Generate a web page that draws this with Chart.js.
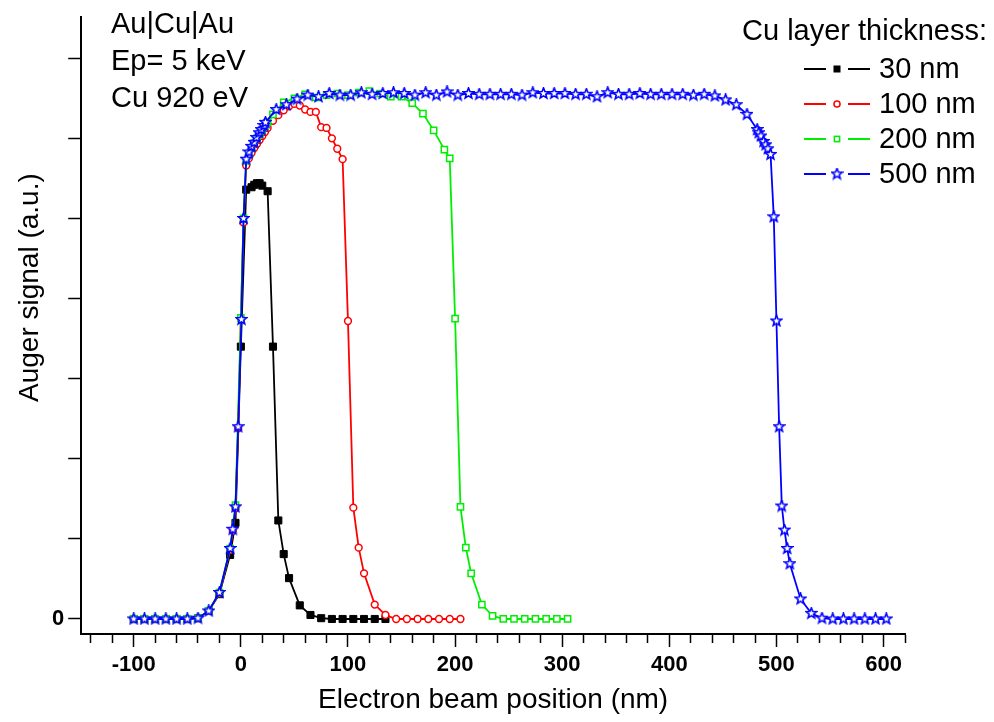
<!DOCTYPE html>
<html lang="en">
<head>
    <meta charset="UTF-8">
    <title>Auger signal vs electron beam position</title>
    <script src="https://cdn.jsdelivr.net/npm/chart.js"></script>
    <style>
        html, body { margin: 0; padding: 0; background: #fff; }
        #wrap { width: 994px; height: 722px; position: relative; }
    </style>
</head>
<body>
    <div id="wrap"><canvas id="auger-chart"></canvas></div>

    <script>
        // Cu layer thickness: 30 nm
        const x30 = [-100, -90, -80, -70, -60, -50, -40, -30, -20, -10, -5, 0, 5, 10, 12.5, 15, 17.5, 20, 25, 30, 35, 40, 45, 55, 65, 75, 85, 95, 105, 115, 125, 135];
        const y30 = [0, 0, 0, 0, 0, 0, 0.01, 0.1, 0.31, 0.8, 1.2, 3.4, 5.36, 5.39, 5.42, 5.44, 5.44, 5.41, 5.34, 3.4, 1.23, 0.81, 0.51, 0.17, 0.05, 0.01, 0, 0, 0, 0, 0, 0];

        // 100 nm
        const x100 = [-100, -90, -80, -70, -60, -50, -40, -30, -20, -10, -7.5, -5, -2.5, 0, 2.5, 5, 7.5, 10, 12.5, 15, 17.5, 20, 22.5, 25, 30, 35, 40, 45, 50, 55, 60, 65, 70, 75, 80, 85, 90, 95, 100, 105, 110, 115, 125, 135, 145, 155, 165, 175, 185, 195, 205];
        const y100 = [0, 0, 0, 0, 0, 0, 0.01, 0.1, 0.32, 0.86, 1.1, 1.38, 2.38, 3.75, 4.95, 5.66, 5.75, 5.82, 5.88, 5.93, 5.98, 6.03, 6.08, 6.13, 6.22, 6.29, 6.35, 6.4, 6.43, 6.41, 6.36, 6.33, 6.33, 6.14, 6.13, 6.0, 5.87, 5.74, 3.72, 1.39, 0.89, 0.57, 0.18, 0.05, 0, 0, 0, 0, 0, 0, 0];

        // 200 nm
        const x200 = [-100, -90, -80, -70, -60, -50, -40, -30, -20, -10, -5, 0, 2.5, 5, 7.5, 10, 12.5, 15, 17.5, 20, 22.5, 25, 30, 40, 50, 60, 70, 80, 90, 100, 110, 120, 130, 140, 150, 160, 170, 180, 190, 195, 200, 205, 210, 215, 225, 235, 245, 255, 265, 275, 285, 295, 305];
        const y200 = [0, 0, 0, 0, 0, 0, 0.01, 0.1, 0.33, 0.88, 1.42, 3.76, 5.0, 5.72, 5.8, 5.88, 5.94, 6.0, 6.05, 6.1, 6.15, 6.2, 6.3, 6.45, 6.5, 6.55, 6.51, 6.54, 6.56, 6.54, 6.57, 6.59, 6.56, 6.52, 6.52, 6.44, 6.31, 6.1, 5.86, 5.75, 3.75, 1.4, 0.89, 0.57, 0.18, 0.04, 0, 0, 0, 0, 0, 0, 0];

        // 500 nm
        const x500 = [-100, -90, -80, -70, -60, -50, -40, -30, -20, -10, -7.5, -5, -2.5,
            0.5, 2.5, 5, 7.5, 10, 12.5, 14.5, 17, 19, 21.5, 23, 33, 42.5,
            52.5, 62.5, 72.5, 82.5, 92.5, 102.5, 112.5, 122.5, 132.5, 142.5, 152.5, 162.5, 172.5, 182.5, 192.5,
            202.5, 212.5, 222.5, 232.5, 242.5, 252.5, 262.5, 272.5, 282.5, 292.5, 302.5, 312.5, 322.5, 332.5,
            342.5, 352.5, 362.5, 372.5, 382.5, 392.5, 402.5, 412.5, 422.5, 432.5, 442.5, 452.5, 462.5, 472.5,
            482, 483.5, 485.5, 488, 490, 492, 494.5, 497.5, 500, 502.5, 505, 507.5, 510, 512.5,
            522.5, 532.5, 542.5, 552.5, 562.5, 572.5, 582.5, 592.5, 602.5];
        const y500 = [0, 0, 0, 0, 0, 0, 0.01, 0.1, 0.33, 0.88, 1.12, 1.4, 2.4,
            3.74, 5.0, 5.74, 5.83, 5.9, 5.95, 6.01, 6.07, 6.11, 6.16, 6.2, 6.36, 6.42,
            6.49, 6.54, 6.52, 6.56, 6.54, 6.54, 6.57, 6.55, 6.56, 6.57, 6.56, 6.54, 6.57, 6.54, 6.58,
            6.54, 6.56, 6.55, 6.55, 6.55, 6.55, 6.54, 6.57, 6.56, 6.56, 6.56, 6.55, 6.55, 6.52,
            6.57, 6.55, 6.55, 6.56, 6.55, 6.55, 6.55, 6.55, 6.54, 6.55, 6.53, 6.48, 6.42, 6.30,
            6.11, 6.07, 6.03, 5.96, 5.92, 5.87, 5.8, 5.02, 3.72, 2.4, 1.41, 1.11, 0.88, 0.69,
            0.25, 0.07, 0.01, 0, 0, 0, 0, 0, 0];

        const seriesLabels = ['30 nm', '100 nm', '200 nm', '500 nm'];
        const notes = ['Au|Cu|Au', 'Ep= 5 keV', 'Cu 920 eV'];

        const FONT = '"Liberation Sans", Arial, sans-serif';
        Chart.defaults.font.family = FONT;
        Chart.defaults.color = '#000';

        // open five-point star marker
        function starImage(color) {
            const c = document.createElement('canvas');
            c.width = 13; c.height = 13;
            const g = c.getContext('2d');
            g.beginPath();
            for (let i = 0; i < 10; i++) {
                const r = i % 2 === 0 ? 5.6 : 2.4;
                const a = -Math.PI / 2 + i * Math.PI / 5;
                g.lineTo(6.5 + r * Math.cos(a), 6.5 + r * Math.sin(a));
            }
            g.closePath();
            g.fillStyle = '#fff';
            g.fill();
            g.strokeStyle = color;
            g.lineWidth = 1.6;
            g.stroke();
            return c;
        }

        const pts = (xs, ys) => xs.map((x, i) => ({ x: x, y: ys[i] }));

        const datasets = [
            { label: seriesLabels[0], data: pts(x30, y30), borderColor: '#000', pointStyle: 'rect', pointRadius: 5,
              pointBackgroundColor: '#000', pointBorderColor: '#000', pointBorderWidth: 1, order: 4 },
            { label: seriesLabels[1], data: pts(x100, y100), borderColor: '#ff0000', pointStyle: 'circle', pointRadius: 3.4,
              pointBackgroundColor: '#fff', pointBorderColor: '#ff0000', pointBorderWidth: 1.5, order: 3 },
            { label: seriesLabels[2], data: pts(x200, y200), borderColor: '#00ee00', pointStyle: 'rect', pointRadius: 4.4,
              pointBackgroundColor: '#fff', pointBorderColor: '#00ee00', pointBorderWidth: 1.5, order: 2 },
            { label: seriesLabels[3], data: pts(x500, y500), borderColor: '#0000ff', pointStyle: starImage('#0000ff'),
              pointBackgroundColor: '#fff', pointBorderColor: '#0000ff', order: 1 }
        ];
        datasets.forEach(d => { d.borderWidth = 1.8; d.tension = 0; d.fill = false; });

        // legend with line-marker-line samples, plus the text notes and the y title
        const extras = {
            id: 'extras',
            afterDraw(chart) {
                const ctx = chart.ctx;
                const area = chart.chartArea;
                ctx.save();
                ctx.fillStyle = '#000';
                ctx.font = '29px ' + FONT;

                // notes, top left
                ctx.textAlign = 'left';
                ctx.textBaseline = 'alphabetic';
                notes.forEach((t, i) => ctx.fillText(t, 111, 33 + i * 37));

                // legend
                ctx.textAlign = 'right';
                ctx.fillText('Cu layer thickness:', 987, 40);
                chart.data.datasets.forEach((ds, i) => {
                    const y = 69 + i * 35;
                    ctx.strokeStyle = ds.borderColor;
                    ctx.lineWidth = 2;
                    ctx.beginPath();
                    ctx.moveTo(804, y); ctx.lineTo(826, y);
                    ctx.moveTo(848, y); ctx.lineTo(870, y);
                    ctx.stroke();
                    const mx = 837;
                    if (ds.pointStyle instanceof HTMLCanvasElement) {
                        ctx.drawImage(ds.pointStyle, mx - ds.pointStyle.width / 2, y - ds.pointStyle.height / 2);
                    } else if (ds.pointStyle === 'rect') {
                        const s = ds.pointRadius * Math.SQRT1_2 * 0.85;
                        ctx.fillStyle = ds.pointBackgroundColor;
                        ctx.fillRect(mx - s, y - s, 2 * s, 2 * s);
                        ctx.lineWidth = ds.pointBorderWidth;
                        ctx.strokeStyle = ds.pointBorderColor;
                        ctx.strokeRect(mx - s, y - s, 2 * s, 2 * s);
                    } else {
                        ctx.beginPath();
                        ctx.arc(mx, y, ds.pointRadius * 0.9, 0, Math.PI * 2);
                        ctx.fillStyle = ds.pointBackgroundColor;
                        ctx.fill();
                        ctx.lineWidth = ds.pointBorderWidth;
                        ctx.strokeStyle = ds.pointBorderColor;
                        ctx.stroke();
                    }
                    ctx.fillStyle = '#000';
                    ctx.textAlign = 'left';
                    ctx.textBaseline = 'middle';
                    ctx.fillText(ds.label, 879, y + 1);
                });

                // y axis title, sits a bit above the middle of the axis
                ctx.font = '28px ' + FONT;
                ctx.translate(30, (area.top + area.bottom) / 2 - 38);
                ctx.rotate(-Math.PI / 2);
                ctx.textAlign = 'center';
                ctx.textBaseline = 'middle';
                ctx.fillText('Auger signal (a.u.)', 0, 0);
                ctx.restore();
            }
        };

        new Chart(document.getElementById('auger-chart'), {
            type: 'line',
            data: { datasets: datasets },
            plugins: [extras],
            options: {
                responsive: true,
                maintainAspectRatio: false,
                animation: false,
                layout: { padding: { left: 48, right: 89, top: 17, bottom: 5 } },
                plugins: { legend: { display: false }, tooltip: { enabled: false } },
                scales: {
                    x: {
                        type: 'linear',
                        min: -149,
                        max: 620,
                        border: { color: '#000', width: 2 },
                        grid: {
                            drawOnChartArea: false,
                            tickLength: 13,
                            tickWidth: 1.5,
                            tickColor: '#000',
                            // minor ticks drawn shorter than the labelled ones
                            tickBorderDash: (c) => (c.tick && c.tick.value % 100 === 0) ? [] : [8, 40]
                        },
                        ticks: {
                            stepSize: 20,
                            includeBounds: false,
                            autoSkip: false,
                            maxRotation: 0,
                            padding: 5,
                            font: { size: 22, weight: 'bold' },
                            callback: (v) => v % 100 === 0 ? String(v) : ''
                        },
                        title: {
                            display: true,
                            text: 'Electron beam position (nm)',
                            font: { size: 28 },
                            padding: { top: 0, bottom: 0 }
                        }
                    },
                    y: {
                        min: -0.1875,
                        max: 7.5125,
                        border: { color: '#000', width: 2 },
                        grid: { drawOnChartArea: false, tickLength: 13, tickWidth: 1.5, tickColor: '#000' },
                        ticks: {
                            stepSize: 1,
                            includeBounds: false,
                            autoSkip: false,
                            padding: 4,
                            font: { size: 22, weight: 'bold' },
                            callback: (v) => v === 0 ? '0' : ''
                        }
                    }
                }
            }
        });
    </script>
</body>
</html>
